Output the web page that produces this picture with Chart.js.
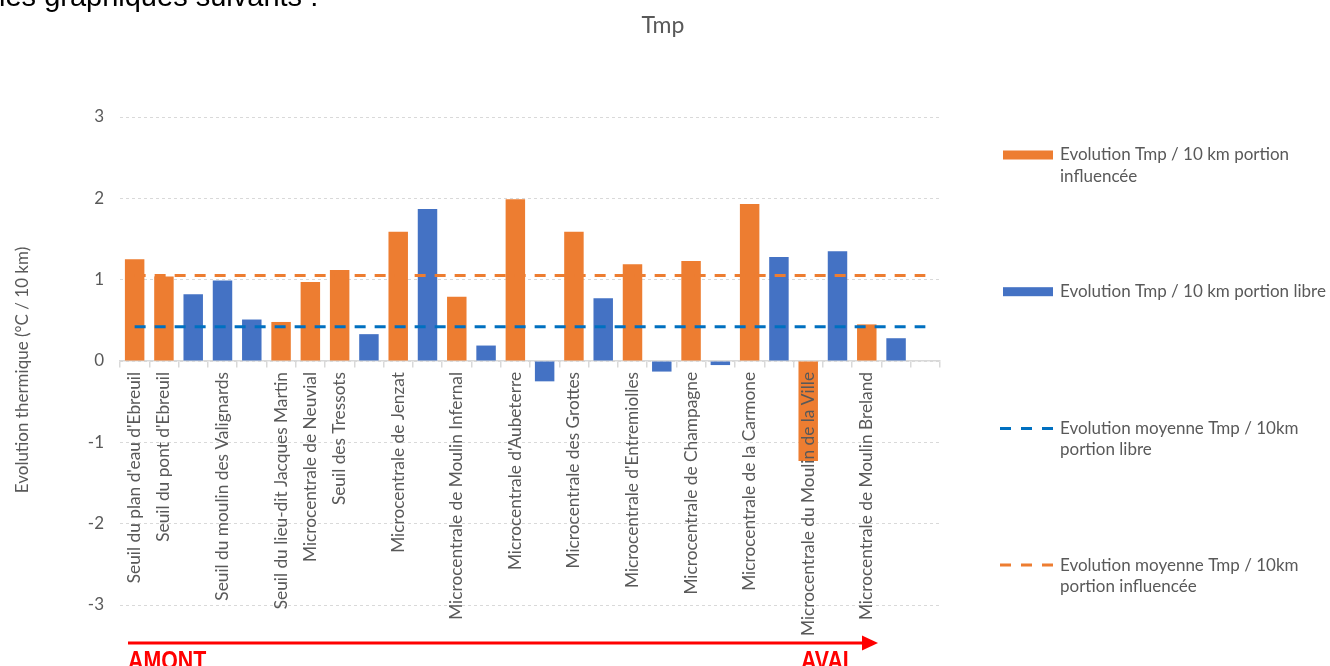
<!DOCTYPE html>
<html>
<head>
<meta charset="utf-8">
<title>Tmp</title>
<script src="https://cdn.jsdelivr.net/npm/chart.js@4.4.1/dist/chart.umd.min.js"></script>
<style>
  html, body { margin: 0; padding: 0; background: #ffffff; }
  #wrap { position: relative; width: 1330px; height: 666px; overflow: hidden; }
  canvas { display: block; }
</style>
</head>
<body>
<div id="wrap"><canvas id="chart" width="1330" height="666"></canvas></div>
<script>
// Sites along the river, from upstream (AMONT) to downstream (AVAL)
const categories = [
  "Seuil du plan d'eau d'Ebreuil",
  "Seuil du pont d'Ebreuil",
  "",
  "Seuil du moulin des Valignards",
  "",
  "Seuil du lieu-dit Jacques Martin",
  "Microcentrale de Neuvial",
  "Seuil des Tressots",
  "",
  "Microcentrale de Jenzat",
  "",
  "Microcentrale de Moulin Infernal",
  "",
  "Microcentrale d'Aubeterre",
  "",
  "Microcentrale des Grottes",
  "",
  "Microcentrale d'Entremiolles",
  "",
  "Microcentrale de Champagne",
  "",
  "Microcentrale de la Carmone",
  "",
  "Microcentrale du Moulin de la Ville",
  "",
  "Microcentrale de Moulin Breland",
  "",
  ""
];

// Temperature change (°C per 10 km) on the influenced reaches
const influencee = [1.25, 1.04, null, null, null, 0.48, 0.97, 1.12, null, 1.59, null, 0.79, null, 1.99,
                    null, 1.59, null, 1.19, null, 1.23, null, 1.93, null, -1.23, null, 0.45, null, null];

// Temperature change (°C per 10 km) on the free-flowing reaches
const libre = [null, null, 0.82, 0.99, 0.51, null, null, null, 0.33, null, 1.87, null, 0.19, null,
               -0.25, null, 0.77, null, -0.13, null, -0.05, null, 1.28, null, 1.35, null, 0.28, null];

// Average changes, drawn as dashed reference lines across all sites
const meanLibre = 0.42;
const meanInfluencee = 1.05;

const yTicks = [-3, -2, -1, 0, 1, 2, 3];

const chartTitle = "Tmp";
const yTitle = "Evolution thermique (°C / 10 km)";
const pageText = "les graphiques suivants :";

const legendLines = [
  ["Evolution Tmp / 10 km portion", "influencée"],
  ["Evolution Tmp / 10 km portion libre"],
  ["Evolution moyenne Tmp / 10km", "portion libre"],
  ["Evolution moyenne Tmp / 10km", "portion influencée"]
];

const FONT = "Lato, 'Open Sans', 'DejaVu Sans', sans-serif";
const GREY = "#595959";
const ORANGE = "#ED7D31";
const BLUE = "#4472C4";
const DARK_BLUE = "#0070C0";
const GRID = "#d9d9d9";

Chart.defaults.font.family = FONT;
Chart.defaults.color = GREY;

// A horizontal mean line: the value sits on the first and last site, the gap is spanned
function meanLine(value) {
  const last = categories.length - 1;
  return categories.map((_, i) => (i === 0 || i === last) ? value : null);
}

// Title, legend, side text and the upstream/downstream arrow
const decorations = {
  id: 'decorations',
  afterDraw(chart) {
    const ctx = chart.ctx;
    ctx.save();

    // Sentence of the surrounding document, cut at the top edge
    ctx.fillStyle = "#000000";
    ctx.font = "29px 'Liberation Sans', Arial, sans-serif";
    ctx.textAlign = "left";
    ctx.textBaseline = "alphabetic";
    ctx.fillText(pageText, -1, 6);

    // Chart title
    ctx.font = "23px " + FONT;
    ctx.fillStyle = GREY;
    ctx.textAlign = "center";
    ctx.fillText(chartTitle, 663, 33);

    // Vertical axis title
    ctx.save();
    ctx.translate(23, 370);
    ctx.rotate(-Math.PI / 2);
    ctx.font = "17px " + FONT;
    ctx.fillStyle = GREY;
    ctx.textAlign = "center";
    ctx.textBaseline = "middle";
    ctx.fillText(yTitle, 0, 0);
    ctx.restore();

    // Legend
    const legendTop = 155;
    const legendStep = 136.7;
    chart.data.datasets.forEach((ds, i) => {
      const y = legendTop + i * legendStep;
      ctx.save();
      if (ds.type === 'line') {
        ctx.strokeStyle = ds.borderColor;
        ctx.lineWidth = 3;
        ctx.setLineDash([11, 10]);
        ctx.beginPath();
        ctx.moveTo(1000, y);
        ctx.lineTo(1053, y);
        ctx.stroke();
      } else {
        ctx.fillStyle = ds.backgroundColor;
        ctx.fillRect(1003, y - 4.5, 50, 9);
      }
      ctx.restore();
      ctx.font = "17px " + FONT;
      ctx.fillStyle = GREY;
      ctx.textAlign = "left";
      ctx.textBaseline = "middle";
      legendLines[i].forEach((line, k) => ctx.fillText(line, 1060, y + k * 21.5));
    });

    // Upstream -> downstream arrow
    ctx.strokeStyle = "#FF0000";
    ctx.fillStyle = "#FF0000";
    ctx.lineWidth = 3;
    ctx.beginPath();
    ctx.moveTo(128, 643);
    ctx.lineTo(864, 643);
    ctx.stroke();
    ctx.beginPath();
    ctx.moveTo(862, 635.5);
    ctx.lineTo(878, 643);
    ctx.lineTo(862, 650.5);
    ctx.closePath();
    ctx.fill();

    ctx.font = "bold 26px 'Liberation Sans', Arial, sans-serif";
    ctx.textAlign = "left";
    ctx.textBaseline = "alphabetic";
    [["AMONT", 128], ["AVAL", 801]].forEach(([txt, x]) => {
      ctx.save();
      ctx.translate(x, 669);
      ctx.scale(0.82, 1);
      ctx.fillText(txt, 0, 0);
      ctx.restore();
    });

    ctx.restore();
  }
};

new Chart(document.getElementById('chart'), {
  type: 'bar',
  data: {
    labels: categories,
    datasets: [
      {
        label: legendLines[0].join(' '),
        data: influencee,
        backgroundColor: ORANGE,
        grouped: false,
        categoryPercentage: 1,
        barPercentage: 0.665,
        order: 1
      },
      {
        label: legendLines[1].join(' '),
        data: libre,
        backgroundColor: BLUE,
        grouped: false,
        categoryPercentage: 1,
        barPercentage: 0.665,
        order: 1
      },
      {
        type: 'line',
        label: legendLines[2].join(' '),
        data: meanLine(meanLibre),
        spanGaps: true,
        borderColor: DARK_BLUE,
        borderWidth: 3,
        borderDash: [11, 9],
        borderCapStyle: 'butt',
        pointRadius: 0,
        fill: false,
        order: 0
      },
      {
        type: 'line',
        label: legendLines[3].join(' '),
        data: meanLine(meanInfluencee),
        spanGaps: true,
        borderColor: ORANGE,
        borderWidth: 3,
        borderDash: [11, 9],
        borderCapStyle: 'butt',
        pointRadius: 0,
        fill: false,
        order: 0
      }
    ]
  },
  options: {
    responsive: false,
    animation: false,
    events: [],
    layout: { padding: { left: 0, right: 390, top: 117, bottom: 61 } },
    plugins: {
      legend: { display: false },
      tooltip: { enabled: false },
      title: { display: false }
    },
    scales: {
      x: {
        type: 'category',
        position: { y: 0 },
        offset: true,
        grid: {
          display: true,
          offset: true,
          drawOnChartArea: false,
          drawTicks: true,
          tickLength: 6,
          color: GRID,
          lineWidth: 1.5
        },
        border: { display: true, color: GRID, width: 1.5 },
        ticks: {
          z: 1,
          autoSkip: false,
          minRotation: 90,
          maxRotation: 90,
          padding: 5,
          color: GREY,
          font: { family: FONT, size: 17.3 }
        }
      },
      y: {
        type: 'linear',
        min: yTicks[0],
        max: yTicks[yTicks.length - 1],
        afterBuildTicks(scale) {
          scale.ticks = yTicks.map(v => ({ value: v }));
        },
        afterFit(scale) {
          scale.width = 120;
        },
        grid: { color: GRID, lineWidth: 1, drawTicks: false },
        border: { display: false, dash: [3, 3] },
        ticks: {
          padding: 16,
          color: GREY,
          font: { family: FONT, size: 17 }
        }
      }
    }
  },
  plugins: [decorations]
});
</script>
</body>
</html>
